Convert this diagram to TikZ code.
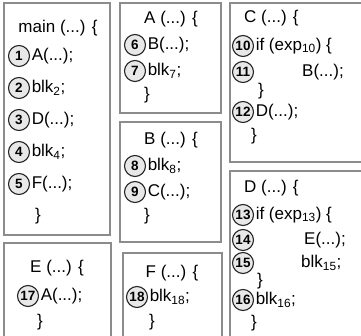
\documentclass[tikz,border=0pt]{standalone}
\usepackage{fontspec}
\setmainfont{Liberation Sans}
\usetikzlibrary{positioning}
\definecolor{boxgray}{RGB}{140,140,140}
\definecolor{numfill}{RGB}{232,232,232}

\begin{document}
\begin{tikzpicture}[
  x=1pt, y=-1pt,
  fnbox/.style={draw=boxgray, line width=1.1pt},
  num/.style={circle, draw=black!85, line width=1.1pt, fill=numfill, inner sep=0pt, minimum size=21pt, font=\bfseries\fontsize{13.5}{13.5}\selectfont},
  code/.style={anchor=west, inner sep=0pt, font=\fontsize{17}{17}\selectfont}
]
\useasboundingbox (0,0) rectangle (361,336);
\clip (0,0) rectangle (361,336);

% main
\draw[fnbox] (4,3) rectangle (110,235);
\node[code, anchor=center] (mainhd) at (58,28) {main (...) \{};
\node[num] (n1) at (19,56) {1};
\node[code, right=1.5pt of n1] (s1) {A(...);};
\node[num] (n2) at (19,88) {2};
\node[code, right=1.5pt of n2] (s2) {blk\textsubscript{2};};
\node[num] (n3) at (19,120) {3};
\node[code, right=1.5pt of n3] (s3) {D(...);};
\node[num] (n4) at (19,152) {4};
\node[code, right=1.5pt of n4] (s4) {blk\textsubscript{4};};
\node[num] (n5) at (19,184) {5};
\node[code, right=1.5pt of n5] (s5) {F(...);};
\node[code] (mainend) at (35,216) {\}};

% E
\draw[fnbox] (4,345) -- (4,243) -- (111,243) -- (111,345);
\node[code, anchor=center] (Ehd) at (57,268) {E (...) \{};
\node[num] (n17) at (28,296) {17};
\node[code, right=1.5pt of n17] (s17) {A(...);};
\node[code] (Eend) at (37,322) {\}};

% A
\draw[fnbox] (120,3) rectangle (221,113);
\node[code, anchor=center] (Ahd) at (171,19) {A (...) \{};
\node[num] (n6) at (135,45) {6};
\node[code, right=1.5pt of n6] (s6) {B(...);};
\node[num] (n7) at (135,71) {7};
\node[code, right=1.5pt of n7] (s7) {blk\textsubscript{7};};
\node[code] (Aend) at (144,95) {\}};

% B
\draw[fnbox] (120,122) rectangle (221,242);
\node[code, anchor=center] (Bhd) at (171,140) {B (...) \{};
\node[num] (n8) at (135,166) {8};
\node[code, right=1.5pt of n8] (s8) {blk\textsubscript{8};};
\node[num] (n9) at (135,192) {9};
\node[code, right=1.5pt of n9] (s9) {C(...);};
\node[code] (Bend) at (144,216) {\}};

% F
\draw[fnbox] (123,345) -- (123,253) -- (222,253) -- (222,345);
\node[code, anchor=center] (Fhd) at (172,273) {F (...) \{};
\node[num] (n18) at (137,297) {18};
\node[code, right=1.5pt of n18] (s18) {blk\textsubscript{18};};
\node[code] (Fend) at (149,322) {\}};

% C
\draw[fnbox] (230,3) rectangle (365,162);
\node[code] (Chd) at (244,18) {C (...) \{};
\node[num] (n10) at (243,46) {10};
\node[code, right=1.5pt of n10] (s10) {if (exp\textsubscript{10}) \{};
\node[num] (n11) at (243,72) {11};
\node[code] (s11) at (302,72) {B(...);};
\node[code] (Cin) at (258,91) {\}};
\node[num] (n12) at (243,112) {12};
\node[code, right=1.5pt of n12] (s12) {D(...);};
\node[code] (Cend) at (251,136) {\}};

% D
\draw[fnbox] (230,345) -- (230,171) -- (365,171);
\node[code] (Dhd) at (244,188) {D (...) \{};
\node[num] (n13) at (243,215) {13};
\node[code, right=1.5pt of n13] (s13) {if (exp\textsubscript{13}) \{};
\node[num] (n14) at (243,240) {14};
\node[code] (s14) at (304,240) {E(...);};
\node[num] (n15) at (243,263) {15};
\node[code] (s15) at (301,263) {blk\textsubscript{15};};
\node[code] (Din) at (257,281) {\}};
\node[num] (n16) at (243,300) {16};
\node[code, right=1.5pt of n16] (s16) {blk\textsubscript{16};};
\node[code] (Dend) at (251,323) {\}};

\end{tikzpicture}
\end{document}
